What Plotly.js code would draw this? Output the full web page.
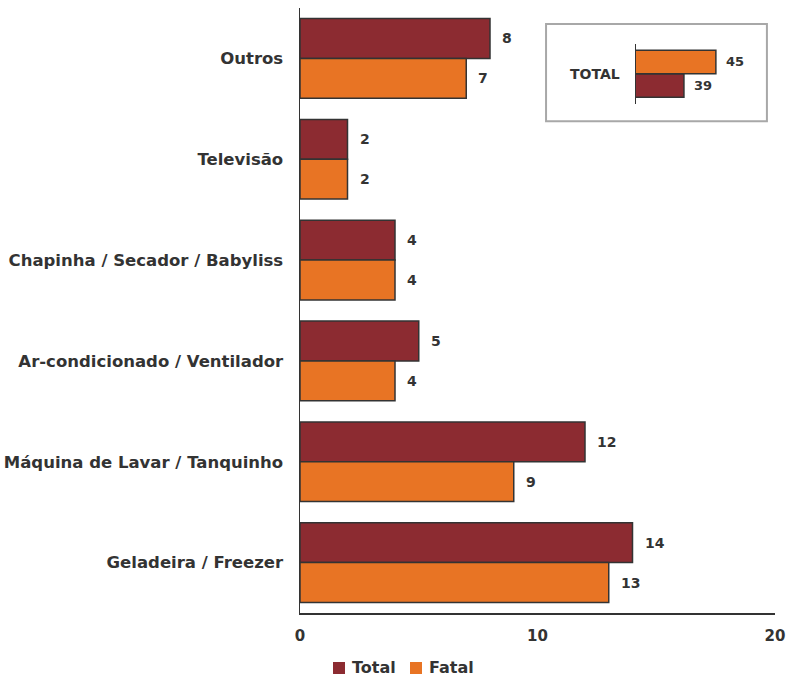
<!DOCTYPE html>
<html>
<head>
<meta charset="utf-8">
<script src="https://cdn.plot.ly/plotly-3.0.1.min.js"></script>
<style>
  html, body { margin: 0; padding: 0; background: #fff; }
  #chart { width: 787px; height: 680px; }
</style>
</head>
<body>
<div id="chart"></div>
<script>
// Acidentes com eletrodomésticos por tipo de aparelho
const categories = [
  "Outros",
  "Televisão",
  "Chapinha / Secador / Babyliss",
  "Ar-condicionado / Ventilador",
  "Máquina de Lavar / Tanquinho",
  "Geladeira / Freezer"
];
const totalValues = [8, 2, 4, 5, 12, 14];
const fatalValues = [7, 2, 4, 4, 9, 13];

// Quadro-resumo
const summaryLabel = ["TOTAL"];
const summaryTotal = [39];
const summaryFatal = [45];

const xTicks = [0, 10, 20];
const seriesNames = ["Total", "Fatal"];

const RED = "#8c2b31";
const ORANGE = "#e87424";
const EDGE = "#333333";
const TEXT = "#333333";
const FONT = "DejaVu Sans, Liberation Sans, Arial, sans-serif";
const COLORS = [RED, ORANGE];

const barLine = { color: EDGE, width: 1.5 };

const traces = [
  {
    type: "bar", orientation: "h", name: seriesNames[0],
    y: categories, x: totalValues,
    marker: { color: RED, line: barLine }
  },
  {
    type: "bar", orientation: "h", name: seriesNames[1],
    y: categories, x: fatalValues,
    marker: { color: ORANGE, line: barLine }
  },
  {
    type: "bar", orientation: "h", name: seriesNames[0],
    y: summaryLabel, x: summaryTotal,
    xaxis: "x2", yaxis: "y2",
    marker: { color: RED, line: barLine }
  },
  {
    type: "bar", orientation: "h", name: seriesNames[1],
    y: summaryLabel, x: summaryFatal,
    xaxis: "x2", yaxis: "y2",
    marker: { color: ORANGE, line: barLine }
  }
];

// Value labels beside each bar
const annotations = [];
const labelFont = { family: FONT, size: 14, color: TEXT, weight: "bold" };
categories.forEach((c, i) => {
  annotations.push({
    x: totalValues[i], y: c, xref: "x", yref: "y",
    text: String(totalValues[i]), showarrow: false,
    xanchor: "left", xshift: 10, yshift: 20, font: labelFont
  });
  annotations.push({
    x: fatalValues[i], y: c, xref: "x", yref: "y",
    text: String(fatalValues[i]), showarrow: false,
    xanchor: "left", xshift: 10, yshift: -20, font: labelFont
  });
});
const smallFont = { family: FONT, size: 13, color: TEXT, weight: "bold" };
annotations.push({
  x: summaryFatal[0], y: summaryLabel[0], xref: "x2", yref: "y2",
  text: String(summaryFatal[0]), showarrow: false,
  xanchor: "left", xshift: 8, yshift: 12, font: smallFont
});
annotations.push({
  x: summaryTotal[0], y: summaryLabel[0], xref: "x2", yref: "y2",
  text: String(summaryTotal[0]), showarrow: false,
  xanchor: "left", xshift: 8, yshift: -12, font: smallFont
});

// Legend below the axis: colour swatch followed by series name
const legendFont = { family: FONT, size: 16, color: TEXT, weight: "bold" };
const legendSlots = [0.0695, 0.2316];
const shapes = [{
  type: "rect", xref: "paper", yref: "paper", layer: "below",
  x0: 0.518, x1: 0.983, y0: 0.813, y1: 0.9736,
  fillcolor: "#ffffff", line: { color: "#a8a8a8", width: 2 }
}];
seriesNames.forEach((name, i) => {
  const x0 = legendSlots[i];
  shapes.push({
    type: "rect", xref: "paper", yref: "paper",
    x0: x0, x1: x0 + 0.0253, y0: -0.1008, y1: -0.081,
    fillcolor: COLORS[i], line: { width: 0 }
  });
  annotations.push({
    x: x0 + 0.0358, y: -0.0909, xref: "paper", yref: "paper",
    text: name, showarrow: false, xanchor: "left", yanchor: "middle",
    font: legendFont
  });
});

const layout = {
  width: 787, height: 680,
  margin: { l: 300, r: 12, t: 8, b: 67, autoexpand: false },
  paper_bgcolor: "#ffffff", plot_bgcolor: "rgba(0,0,0,0)",
  barmode: "group", bargap: 0.21, bargroupgap: 0,
  font: { family: FONT, color: TEXT },
  showlegend: false,
  xaxis: {
    domain: [0, 1], range: [0, 20], tickvals: xTicks, ticktext: xTicks.map(String),
    showgrid: false, zeroline: false, showline: true, linecolor: EDGE, linewidth: 1.5,
    ticks: "outside", ticklen: 8, tickcolor: "rgba(0,0,0,0)",
    tickfont: { family: FONT, size: 15, color: TEXT, weight: "bold" },
    fixedrange: true
  },
  yaxis: {
    type: "category", categoryorder: "array", categoryarray: categories,
    autorange: "reversed",
    showgrid: false, zeroline: false, showline: true, linecolor: EDGE, linewidth: 1.5,
    ticks: "outside", ticklen: 12, tickcolor: "rgba(0,0,0,0)",
    tickfont: { family: FONT, size: 16.5, color: TEXT, weight: "bold" },
    fixedrange: true
  },
  xaxis2: {
    domain: [0.7074, 0.968], range: [30, 53.25], anchor: "y2",
    showgrid: false, zeroline: false, showline: false, showticklabels: false,
    fixedrange: true
  },
  yaxis2: {
    domain: [0.842, 0.9405], anchor: "x2", type: "category",
    showgrid: false, zeroline: false, showline: true, linecolor: EDGE, linewidth: 1.5,
    ticks: "outside", ticklen: 12, tickcolor: "rgba(0,0,0,0)",
    tickfont: { family: FONT, size: 14, color: TEXT, weight: "bold" },
    fixedrange: true
  },
  shapes: shapes,
  annotations: annotations
};

Plotly.newPlot("chart", traces, layout, { displayModeBar: false, staticPlot: true });
</script>
</body>
</html>
